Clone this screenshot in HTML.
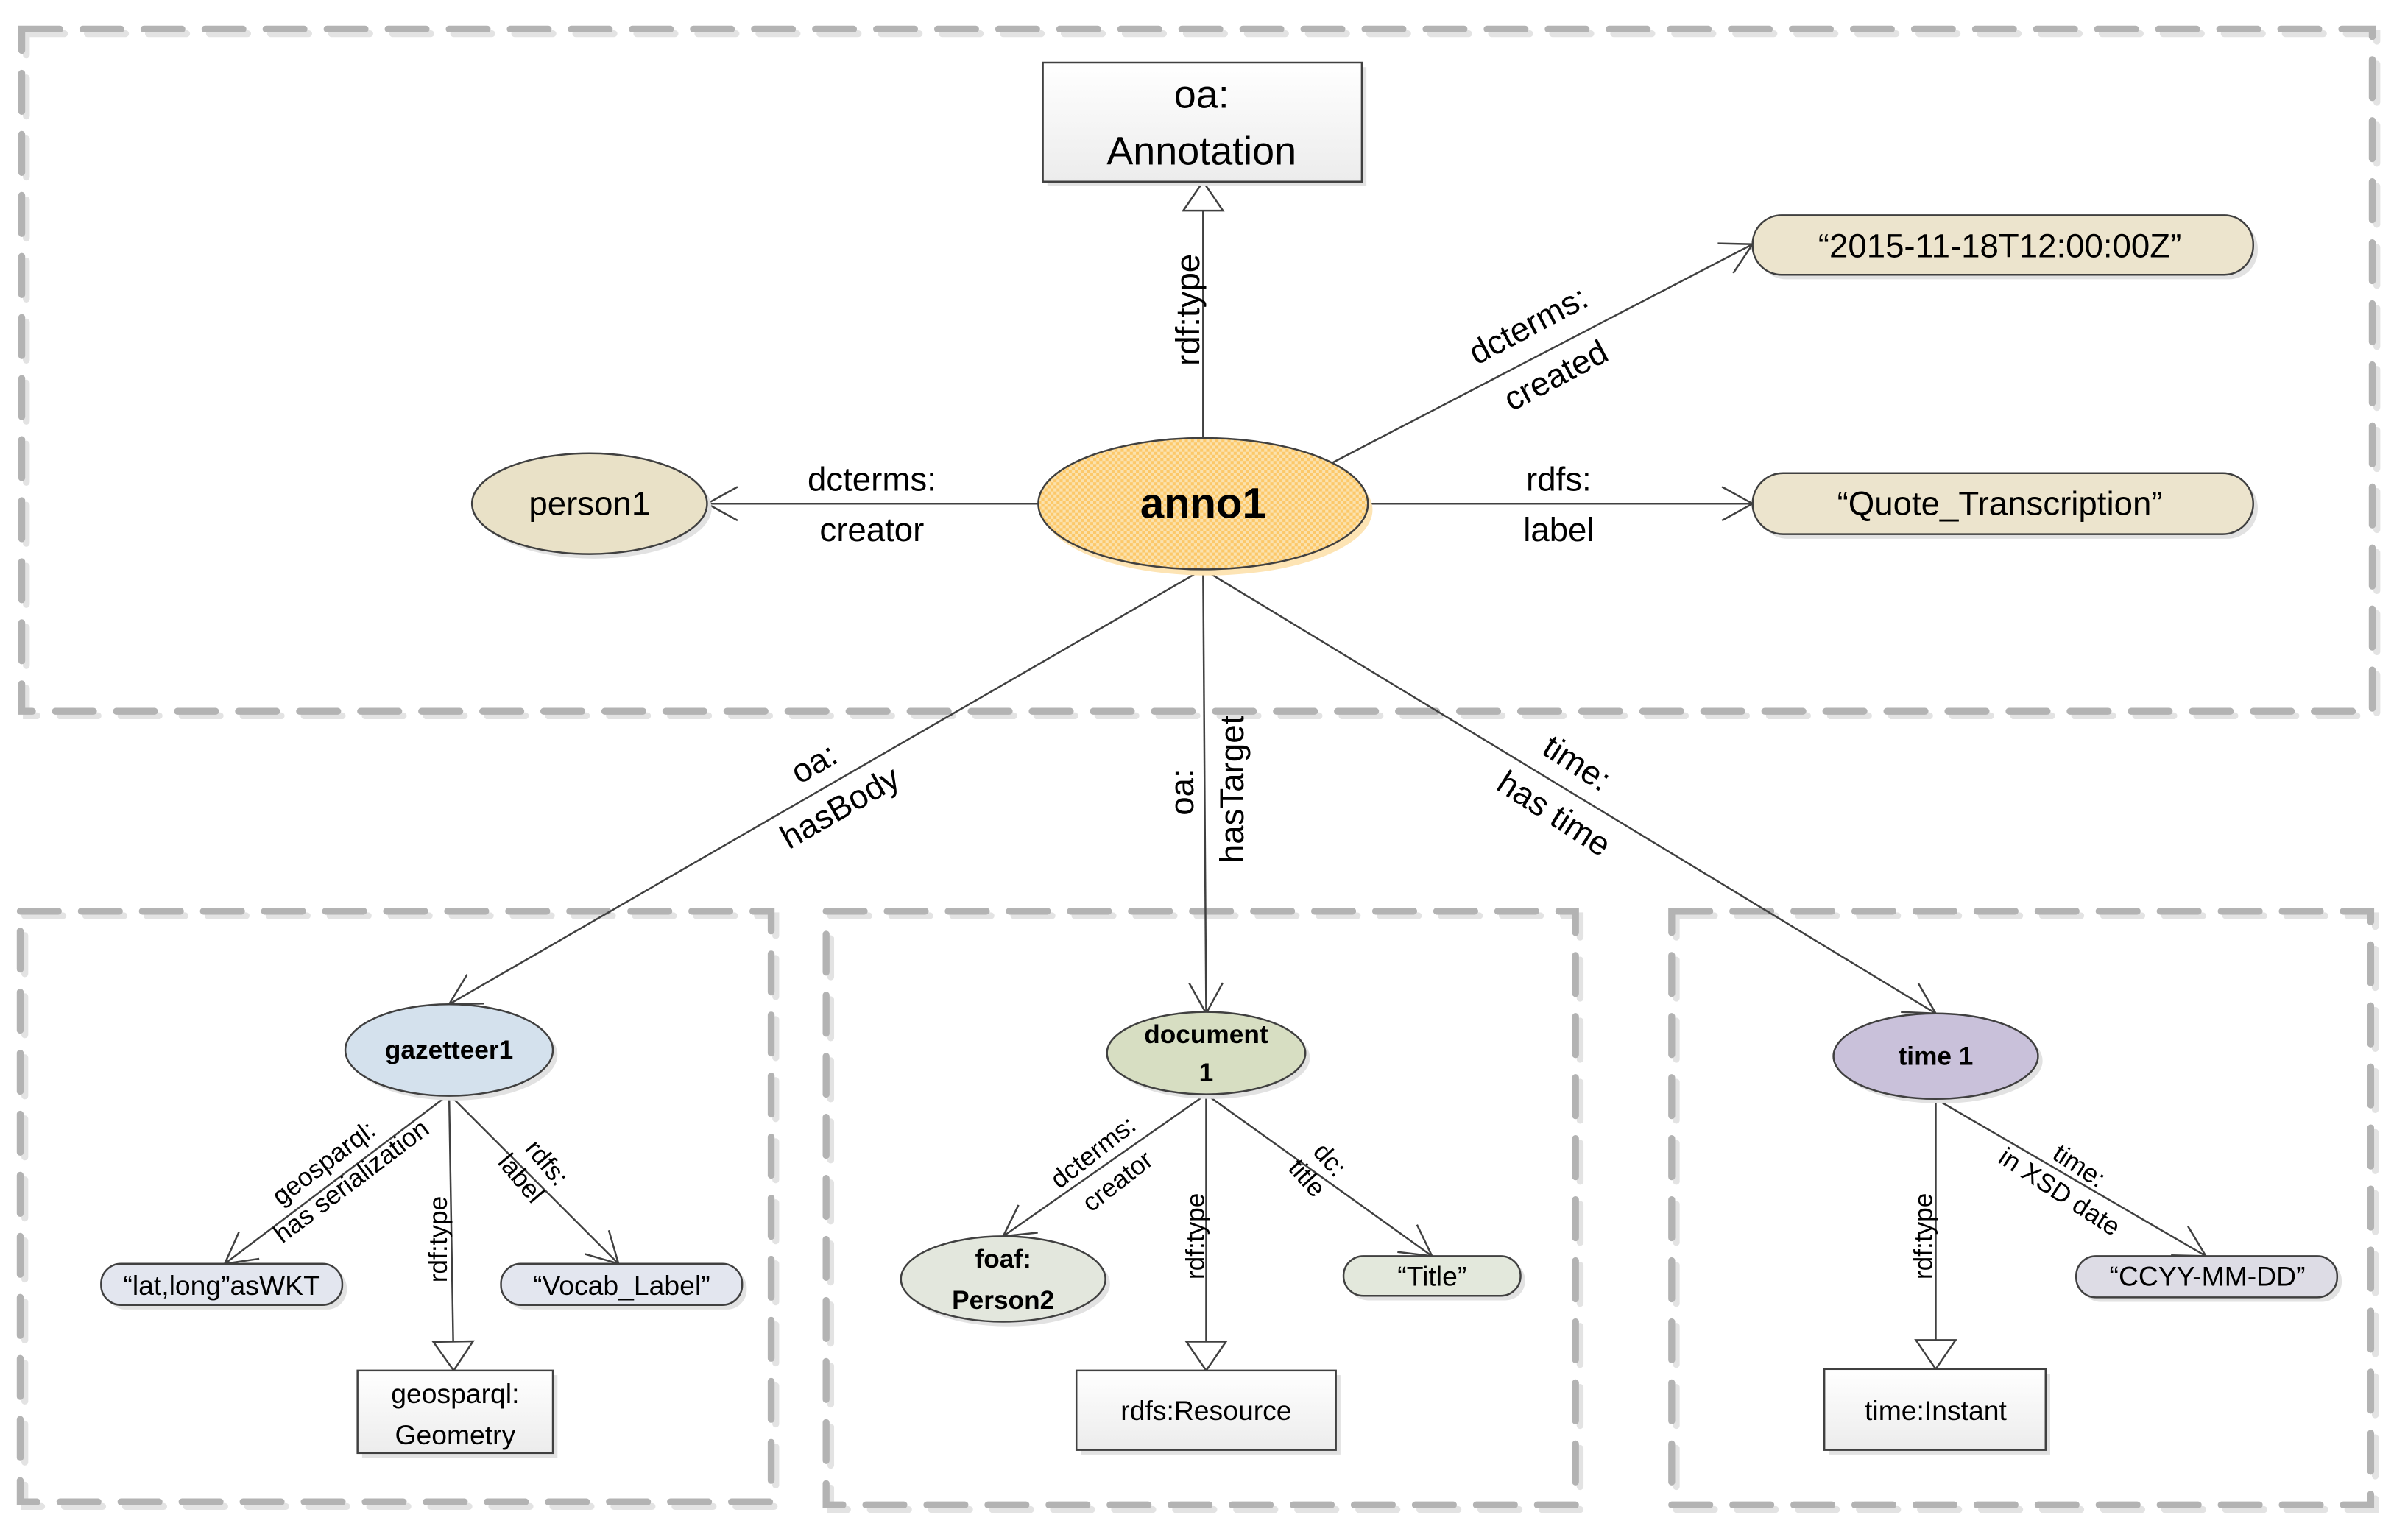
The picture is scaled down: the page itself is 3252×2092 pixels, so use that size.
<!DOCTYPE html>
<html><head><meta charset="utf-8">
<style>html,body{margin:0;padding:0;background:#fff}svg{display:block}
text{font-family:"Liberation Sans",sans-serif;fill:#000;text-anchor:middle;dominant-baseline:central}</style></head>
<body>
<svg width="3252" height="2092" viewBox="0 0 1568 1009" xmlns="http://www.w3.org/2000/svg">
<defs>
<marker id="oa" markerUnits="userSpaceOnUse" markerWidth="30" markerHeight="30" viewBox="-25 -15 30 30" refX="0" refY="0" orient="auto">
<path d="M-20,-11 L0,0 L-20,11" fill="none" stroke="#404040" stroke-width="1.2"/></marker>
<marker id="tri" markerUnits="userSpaceOnUse" markerWidth="30" markerHeight="30" viewBox="-25 -15 30 30" refX="0" refY="0" orient="auto">
<path d="M-19,-13 L0,0 L-19,13 Z" fill="#fff" stroke="#404040" stroke-width="1.2"/></marker>
<linearGradient id="box" x1="0" y1="0" x2="0" y2="1"><stop offset="0" stop-color="#ffffff"/><stop offset="1" stop-color="#ececec"/></linearGradient>
<pattern id="chk" width="4" height="4" patternUnits="userSpaceOnUse"><rect width="4" height="4" fill="#fbe2ae"/><rect width="2" height="2" fill="#fcc869"/><rect x="2" y="2" width="2" height="2" fill="#fcc869"/></pattern>
</defs>
<g fill="none" stroke-width="4.5" stroke-linecap="round" stroke-dasharray="25 15">
<g stroke="#e3e3e3" transform="translate(3,3)">
<rect x="14" y="19" width="1540" height="447"/>
<rect x="13" y="597" width="492" height="387"/>
<rect x="541" y="597" width="491" height="389"/>
<rect x="1095" y="597" width="458" height="389"/>
</g>
<g stroke="#b3b3b3">
<rect x="14" y="19" width="1540" height="447"/>
<rect x="13" y="597" width="492" height="387"/>
<rect x="541" y="597" width="491" height="389"/>
<rect x="1095" y="597" width="458" height="389"/>
</g>
</g>
<g stroke="#404040" stroke-width="1.2" fill="none">
<line x1="788" y1="287" x2="788" y2="119" marker-end="url(#tri)"/>
<line x1="680" y1="330" x2="463" y2="330" marker-end="url(#oa)"/>
<line x1="873" y1="303" x2="1148" y2="160" marker-end="url(#oa)"/>
<line x1="896" y1="330" x2="1148" y2="330" marker-end="url(#oa)"/>
<line x1="788" y1="373" x2="294" y2="658" marker-end="url(#oa)"/>
<line x1="788" y1="373" x2="790" y2="664" marker-end="url(#oa)"/>
<line x1="788" y1="373" x2="1268" y2="664" marker-end="url(#oa)"/>
<line x1="294" y1="717" x2="147" y2="828" marker-end="url(#oa)"/>
<line x1="294" y1="717" x2="297" y2="898" marker-end="url(#tri)"/>
<line x1="294" y1="717" x2="405" y2="828" marker-end="url(#oa)"/>
<line x1="790" y1="717" x2="657" y2="810" marker-end="url(#oa)"/>
<line x1="790" y1="717" x2="790" y2="898" marker-end="url(#tri)"/>
<line x1="790" y1="717" x2="938" y2="823" marker-end="url(#oa)"/>
<line x1="1268" y1="720" x2="1268" y2="897" marker-end="url(#tri)"/>
<line x1="1268" y1="720" x2="1445" y2="823" marker-end="url(#oa)"/>
</g>
<g fill="#e2e2e2">
<rect x="686" y="44" width="209" height="78"/>
<ellipse cx="389" cy="333" rx="77" ry="33"/>
<rect x="1151" y="144" width="328" height="39" rx="19"/>
<rect x="1151" y="313" width="328" height="40" rx="20"/>
<ellipse cx="297" cy="691" rx="68" ry="30"/>
<rect x="69" y="831" width="158" height="27" rx="13"/>
<rect x="331" y="831" width="158" height="27" rx="13"/>
<rect x="237" y="901" width="128" height="54"/>
<ellipse cx="793" cy="693" rx="65" ry="27"/>
<ellipse cx="660" cy="841" rx="67" ry="28"/>
<rect x="883" y="826" width="116" height="26" rx="13"/>
<rect x="708" y="901" width="170" height="52"/>
<ellipse cx="1271" cy="695" rx="67" ry="28"/>
<rect x="1363" y="826" width="171" height="27" rx="13"/>
<rect x="1198" y="900" width="145" height="53"/>
</g>
<ellipse cx="791" cy="334" rx="108" ry="43" fill="#fde4b4"/>
<g stroke="#404040" stroke-width="1.2">
<rect x="683" y="41" width="209" height="78" fill="url(#box)"/>
<ellipse cx="788" cy="330" rx="108" ry="43" fill="url(#chk)"/>
<ellipse cx="386" cy="330" rx="77" ry="33" fill="#e9e1c7"/>
<rect x="1148" y="141" width="328" height="39" rx="19" fill="#ece4cd"/>
<rect x="1148" y="310" width="328" height="40" rx="20" fill="#ece4cd"/>
<ellipse cx="294" cy="688" rx="68" ry="30" fill="#d4e1ed"/>
<rect x="66" y="828" width="158" height="27" rx="13" fill="#e3e6ef"/>
<rect x="328" y="828" width="158" height="27" rx="13" fill="#e3e6ef"/>
<rect x="234" y="898" width="128" height="54" fill="url(#box)"/>
<ellipse cx="790" cy="690" rx="65" ry="27" fill="#d7dec2"/>
<ellipse cx="657" cy="838" rx="67" ry="28" fill="#e3e7dd"/>
<rect x="880" y="823" width="116" height="26" rx="13" fill="#e3e8dc"/>
<rect x="705" y="898" width="170" height="52" fill="url(#box)"/>
<ellipse cx="1268" cy="692" rx="67" ry="28" fill="#c9c1da"/>
<rect x="1360" y="823" width="171" height="27" rx="13" fill="#dddce5"/>
<rect x="1195" y="897" width="145" height="53" fill="url(#box)"/>
</g>
<g font-size="26">
<text x="787" y="62">oa:</text>
<text x="787" y="99">Annotation</text>
</g>
<text x="788" y="330" font-size="28" font-weight="bold">anno1</text>
<g font-size="22">
<text x="386" y="330">person1</text>
<text x="1310" y="161">“2015-11-18T12:00:00Z”</text>
<text x="1310" y="330">“Quote_Transcription”</text>
<text x="571" y="314">dcterms:</text>
<text x="571" y="347">creator</text>
<text x="1021" y="314">rdfs:</text>
<text x="1021" y="347">label</text>
<text transform="translate(778,203) rotate(-90)">rdf:type</text>
<text transform="translate(1001,213) rotate(-28)">dcterms:</text>
<text transform="translate(1019,246) rotate(-28)">created</text>
<text transform="translate(533,500) rotate(-30)">oa:</text>
<text transform="translate(550,529) rotate(-30)">hasBody</text>
<text transform="translate(774,519) rotate(-90)">oa:</text>
<text transform="translate(807,517) rotate(-90)">hasTarget</text>
<text transform="translate(1033,500) rotate(33)">time:</text>
<text transform="translate(1018,533) rotate(33)">has time</text>
</g>
<g font-size="17" font-weight="bold">
<text x="294" y="688">gazetteer1</text>
<text x="790" y="678">document</text>
<text x="790" y="703">1</text>
<text x="657" y="825">foaf:</text>
<text x="657" y="852">Person2</text>
<text x="1268" y="692">time 1</text>
</g>
<g font-size="18">
<text x="145" y="842">“lat,long”asWKT</text>
<text x="407" y="842">“Vocab_Label”</text>
<text x="298" y="913">geosparql:</text>
<text x="298" y="940">Geometry</text>
<text x="938" y="836">“Title”</text>
<text x="790" y="924">rdfs:Resource</text>
<text x="1446" y="836">“CCYY-MM-DD”</text>
<text x="1268" y="924">time:Instant</text>
</g>
<g font-size="17">
<text transform="translate(212,762) rotate(-37)">geosparql:</text>
<text transform="translate(230,774) rotate(-37)">has serialization</text>
<text transform="translate(287,812) rotate(-90)">rdf:type</text>
<text transform="translate(358,762) rotate(50)">rdfs:</text>
<text transform="translate(341,772) rotate(50)">label</text>
<text transform="translate(716,755) rotate(-38)">dcterms:</text>
<text transform="translate(732,774) rotate(-38)">creator</text>
<text transform="translate(783,810) rotate(-90)">rdf:type</text>
<text transform="translate(871,760) rotate(48)">dc:</text>
<text transform="translate(856,772) rotate(48)">title</text>
<text transform="translate(1260,810) rotate(-90)">rdf:type</text>
<text transform="translate(1362,764) rotate(33)">time:</text>
<text transform="translate(1349,781) rotate(33)">in XSD date</text>
</g>
</svg>
</body></html>
